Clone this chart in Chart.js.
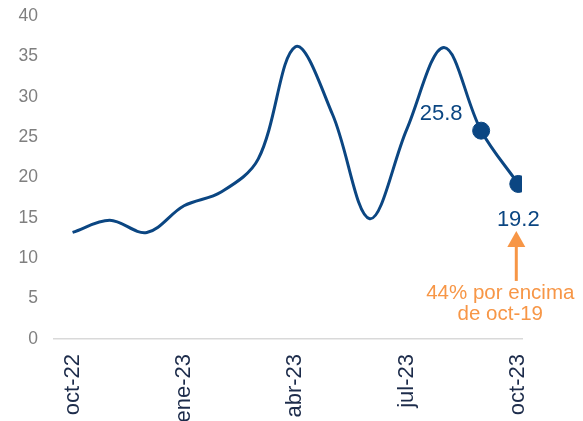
<!DOCTYPE html>
<html><head><meta charset="utf-8">
<script src="https://cdn.jsdelivr.net/npm/chart.js@4/dist/chart.umd.min.js"></script>
<style>html,body{margin:0;padding:0;background:#fff;overflow:hidden}canvas{display:block}</style>
</head><body>
<canvas id="c" width="583" height="421"></canvas>
<script>
const months = ['oct-22','nov-22','dic-22','ene-23','feb-23','mar-23','abr-23','may-23','jun-23','jul-23','ago-23','sep-23','oct-23'];
const values = [13.2,14.7,13.2,16.5,18.2,22.3,36.2,27.8,14.9,26.0,36.1,25.8,19.2];
const yTicks = [0,5,10,15,20,25,30,35,40];
const xTickIdx = [0,3,6,9,12];
const labeledIdx = [11,12];
const noteText = ['44% por encima','de oct-19'];

const FONT = '"Liberation Sans", Arial, sans-serif';
const BLUE = '#0b4682';
const ORANGE = '#F79646';

const annot = {
  id: 'annot',
  afterDatasetsDraw(chart) {
    const ctx = chart.ctx;
    const meta = chart.getDatasetMeta(0);
    const a = meta.data[labeledIdx[0]], b = meta.data[labeledIdx[1]];
    ctx.save();
    ctx.font = '22px ' + FONT;
    ctx.fillStyle = BLUE;
    ctx.textAlign = 'center';
    ctx.textBaseline = 'middle';
    ctx.fillText(values[labeledIdx[0]].toFixed(1), a.x - 40, a.y - 17);
    ctx.fillText(values[labeledIdx[1]].toFixed(1), b.x, b.y + 36);
    // arrow
    const ax = b.x - 2;
    ctx.strokeStyle = ORANGE;
    ctx.fillStyle = ORANGE;
    ctx.lineWidth = 3;
    ctx.beginPath();
    ctx.moveTo(ax, b.y + 97);
    ctx.lineTo(ax, b.y + 60);
    ctx.stroke();
    ctx.beginPath();
    ctx.moveTo(ax, b.y + 47);
    ctx.lineTo(ax - 9, b.y + 63);
    ctx.lineTo(ax + 9, b.y + 63);
    ctx.closePath();
    ctx.fill();
    ctx.font = '20.5px ' + FONT;
    ctx.fillText(noteText[0], b.x - 18, b.y + 109);
    ctx.fillText(noteText[1], b.x - 18, b.y + 130);
    ctx.restore();
  }
};

new Chart(document.getElementById('c'), {
  type: 'line',
  data: {
    datasets: [{
      data: values.map((v, i) => ({x: i, y: v})),
      borderColor: BLUE,
      backgroundColor: BLUE,
      borderWidth: 3,
      tension: 0.35,
      pointRadius: ctx => labeledIdx.includes(ctx.dataIndex) ? 8.5 : 0,
      pointBorderWidth: 1,
      pointBorderColor: BLUE,
      pointBackgroundColor: BLUE,
      fill: false
    }]
  },
  options: {
    responsive: false,
    animation: false,
    layout: {padding: {top: 16, right: 61, left: 0, bottom: 0}},
    plugins: {legend: {display: false}, tooltip: {enabled: false}},
    scales: {
      x: {
        type: 'linear',
        min: -0.5, max: 12.1,
        grid: {display: false, drawTicks: false},
        border: {display: true, color: '#d9d9d9', width: 1.5},
        afterBuildTicks: s => { s.ticks = xTickIdx.map(v => ({value: v})); },
        afterFit: s => { s.height = 82; },
        ticks: {
          autoSkip: false,
          maxRotation: 90, minRotation: 90,
          padding: 15,
          color: '#1c2b4a',
          font: {family: FONT, size: 22},
          callback: v => months[v]
        }
      },
      y: {
        min: 0, max: 40,
        grid: {display: false, drawTicks: false},
        border: {display: false},
        afterBuildTicks: s => { s.ticks = yTicks.map(v => ({value: v})); },
        afterFit: s => { s.width = 54; s.paddingTop = 0; s.paddingBottom = 0; },
        ticks: {
          padding: 16,
          color: '#7f7f7f',
          font: {family: FONT, size: 17.5}
        }
      }
    }
  },
  plugins: [annot]
});
</script>
</body></html>
